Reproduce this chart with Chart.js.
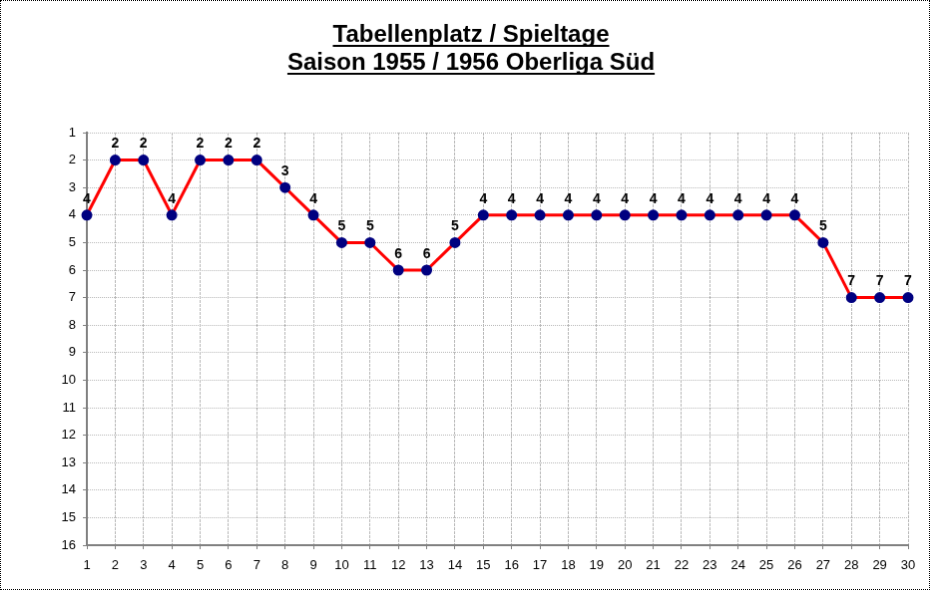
<!DOCTYPE html>
<html>
<head>
<meta charset="utf-8">
<script src="https://cdn.jsdelivr.net/npm/chart.js@4.4.1/dist/chart.umd.min.js"></script>
<style>
  body { margin: 0; background: #fff; }
  #tabChart { display: block; border: 1px dotted #000; }
</style>
</head>
<body>
<canvas id="tabChart" width="930" height="590"></canvas>
<script>
// Spieltage 1..30 und Tabellenplatz
const spieltage = ['1', '2', '3', '4', '5', '6', '7', '8', '9', '10', '11', '12', '13', '14', '15',
    '16', '17', '18', '19', '20', '21', '22', '23', '24', '25', '26', '27', '28', '29', '30'];
const platz = [4, 2, 2, 4, 2, 2, 2, 3, 4, 5, 5, 6, 6, 5, 4, 4, 4, 4, 4, 4, 4, 4, 4, 4, 4, 4, 5, 7, 7, 7];
const titelZeilen = ['Tabellenplatz / Spieltage', 'Saison 1955 / 1956 Oberliga Süd'];

const FONT = 'Arial, "Liberation Sans", sans-serif';

// Titel mit Unterstreichung
const titelPlugin = {
    id: 'titel',
    afterDraw(chart) {
        const ctx = chart.ctx;
        ctx.save();
        ctx.font = 'bold 24px ' + FONT;
        ctx.fillStyle = '#000';
        ctx.textAlign = 'center';
        ctx.textBaseline = 'alphabetic';
        const cx = chart.width / 2 + 6;
        titelZeilen.forEach((t, i) => {
            const y = 41 + i * 28;
            ctx.fillText(t, cx, y);
            const w = ctx.measureText(t).width;
            ctx.fillRect(cx - w / 2, y + 3, w, 2);
        });
        ctx.restore();
    }
};

// Werte über den Punkten
const werteLabels = {
    id: 'werteLabels',
    afterDatasetsDraw(chart) {
        const ctx = chart.ctx;
        const meta = chart.getDatasetMeta(0);
        ctx.save();
        ctx.font = 'bold 14px ' + FONT;
        ctx.fillStyle = '#000';
        ctx.textAlign = 'center';
        ctx.textBaseline = 'bottom';
        meta.data.forEach((pt, i) => {
            ctx.fillText(platz[i], pt.x, pt.y - 9);
        });
        ctx.restore();
    }
};

new Chart(document.getElementById('tabChart').getContext('2d'), {
    type: 'line',
    data: {
        labels: spieltage,
        datasets: [{
            data: platz,
            borderColor: '#ff0000',
            borderWidth: 3,
            pointBackgroundColor: '#000080',
            pointBorderColor: '#000080',
            pointRadius: 4,
            tension: 0
        }]
    },
    options: {
        responsive: false,
        animation: false,
        layout: { padding: { left: 0, right: 21, top: 132, bottom: 0 } },
        plugins: {
            legend: { display: false },
            title: { display: false },
            tooltip: { enabled: false }
        },
        scales: {
            x: {
                offset: false,
                grid: { color: '#b8b8b8', tickColor: '#808080', tickLength: 4 },
                border: { color: '#808080', width: 2, dash: [3, 1] },
                ticks: { color: '#000', font: { family: FONT, size: 13 }, padding: 9, maxRotation: 0, autoSkip: false },
                afterFit(scale) { scale.height = 44; }
            },
            y: {
                reverse: true,
                min: 1,
                max: 16,
                grid: { color: '#b8b8b8', tickColor: '#808080', tickLength: 4 },
                border: { color: '#808080', width: 2, dash: [1, 1] },
                ticks: { stepSize: 1, color: '#000', font: { family: FONT, size: 13 }, padding: 7 },
                afterFit(scale) { scale.width = 86; }
            }
        }
    },
    plugins: [titelPlugin, werteLabels]
});
</script>
</body>
</html>
